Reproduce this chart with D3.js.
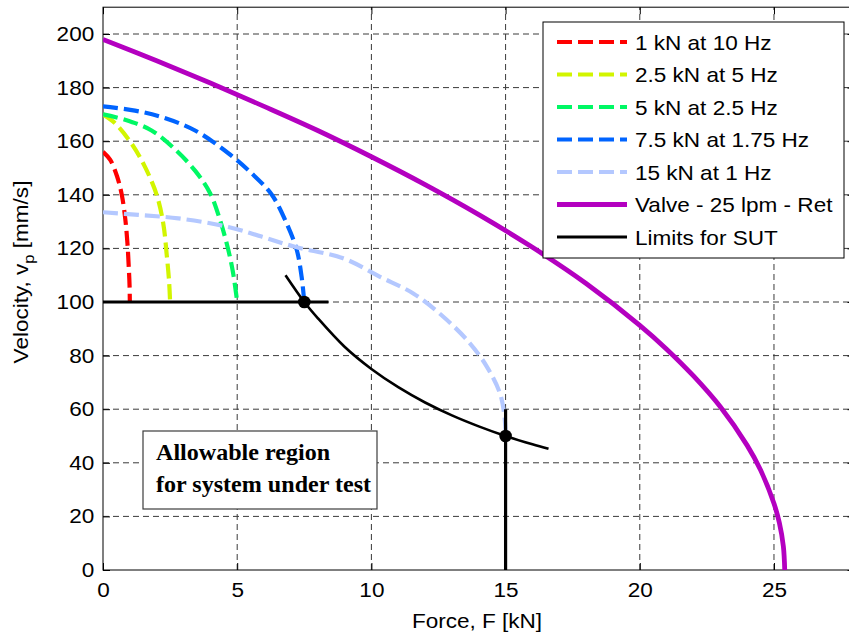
<!DOCTYPE html>
<html>
<head>
<meta charset="utf-8">
<script src="https://cdn.jsdelivr.net/npm/d3@7"></script>
<style>
  html, body { margin: 0; padding: 0; background: #fff; }
  svg { display: block; }
</style>
</head>
<body>
<svg id="chart" width="849" height="637"></svg>
<script>
// ---- tick values ----
const xTicks = [0, 5, 10, 15, 20, 25];
const yTicks = [0, 20, 40, 60, 80, 100, 120, 140, 160, 180, 200];

// ---- sinusoidal test loci (force kN, velocity mm/s) ----
const f1kN   = [0, 0.27, 0.52, 0.70, 0.83, 0.91, 0.96, 0.99, 1.0];
const v1kN   = [156, 153, 147, 140, 131, 122, 113, 106, 100];

const f2p5kN = [0, 0.45, 1.07, 1.56, 2.0, 2.25, 2.37, 2.46, 2.5];
const v2p5kN = [170, 166.7, 159, 150.5, 140, 129, 118, 108, 100];

const f5kN   = [0, 0.82, 1.81, 2.68, 3.43, 3.99, 4.36, 4.67, 4.85, 5.0];
const v5kN   = [170, 168, 164, 157, 149, 140.6, 130.6, 119.4, 110.7, 100];

const f7p5kN = [0, 1.19, 2.19, 3.43, 4.67, 5.54, 6.29, 6.84, 7.22, 7.40, 7.5];
const v7p5kN = [173, 171.4, 169, 164, 155.5, 148, 140, 129.4, 119.4, 109.4, 100];

const f15kN  = [0, 1.32, 2.81, 4.67, 5.91, 7.15, 8.95, 10.32, 11.56, 12.68, 13.67, 14.3, 14.79, 14.95, 15];
const v15kN  = [133.5, 132.5, 131.2, 128, 124.4, 120.6, 116.3, 109.4, 103.2, 94.5, 84.6, 75.9, 65.9, 58, 52];

// ---- valve capability, 25 lpm ----
const fValve = [0, 2, 4, 6, 8, 10, 12, 14, 16, 18, 20, 21, 22, 23, 24, 24.5, 25, 25.2, 25.35, 25.4];
const vValve = [198, 190, 181.7, 173, 164, 154.2, 143.8, 132.6, 120.4, 106.9, 91.3, 82.4, 72.4, 60.9, 46.5, 37.3, 24.8, 17.6, 8.8, 0];

// ---- limits for system under test ----
const fLimitCurve = [6.8, 7.5, 8, 9, 10, 11, 12, 13, 14, 15, 16, 16.6];
const vLimitCurve = [110, 100, 94, 83.3, 75, 68.2, 62.5, 57.7, 53.6, 50, 46.9, 45.2];
const fLimitH = [0, 8.4];
const vLimitH = [100, 100];
const fLimitV = [15, 15];
const vLimitV = [0, 60];
const fCorners = [7.5, 15];
const vCorners = [100, 50];

// ---- legend entries ----
const legendLabels = ["1 kN at 10 Hz", "2.5 kN at 5 Hz", "5 kN at 2.5 Hz", "7.5 kN at 1.75 Hz",
                      "15 kN at 1 Hz", "Valve - 25 lpm - Ret", "Limits for SUT"];
const legendColors = ["#ff0000", "#d2f500", "#00f864", "#0064ff", "#b4c8ff", "#b400c0", "#000000"];

const annotationLines = ["Allowable region", "for system under test"];

// ---- layout ----
const svg = d3.select("#chart");
const x = d3.scaleLinear().domain([0, 28]).range([103, 854.5]);
const y = d3.scaleLinear().domain([0, 210]).range([570, 7.2]);
const FONT = "'Liberation Sans', Arial, Helvetica, sans-serif";
const FS = 20.5, SX = 1.1;

// clip for plot area
svg.append("defs").append("clipPath").attr("id", "plotclip")
  .append("rect").attr("x", x(0)).attr("y", y(210))
  .attr("width", x(28) - x(0)).attr("height", y(0) - y(210));

// grid
const grid = svg.append("g").attr("stroke", "#3a3a3a").attr("stroke-width", 1)
  .attr("stroke-dasharray", "6,4");
xTicks.filter(d => d > 0).forEach(d => {
  grid.append("line").attr("x1", x(d)).attr("x2", x(d)).attr("y1", y(0)).attr("y2", y(210));
});
yTicks.filter(d => d > 0).forEach(d => {
  grid.append("line").attr("x1", x(0)).attr("x2", x(28)).attr("y1", y(d)).attr("y2", y(d));
});

// axes
function styleTicks(g) {
  g.select(".domain").remove();
  g.selectAll(".tick line").attr("stroke", "#000");
  g.selectAll(".tick text").attr("font-family", FONT).attr("font-size", FS)
    .attr("fill", "#000").attr("transform", `scale(${SX},1)`);
}
svg.append("g").attr("transform", `translate(0,${y(0)})`)
  .call(d3.axisBottom(x).tickValues(xTicks).tickSize(-7).tickPadding(12).tickFormat(d3.format("d")))
  .call(styleTicks);
svg.append("g").attr("transform", `translate(${x(0)},0)`)
  .call(d3.axisLeft(y).tickValues(yTicks).tickSize(-7).tickPadding(8).tickFormat(d3.format("d")))
  .call(styleTicks);
svg.append("g").attr("transform", `translate(0,${y(210)})`)
  .call(d3.axisTop(x).tickValues(xTicks).tickSize(-7).tickFormat(""))
  .call(styleTicks);
svg.append("g").attr("transform", `translate(${x(28)},0)`)
  .call(d3.axisRight(y).tickValues(yTicks).tickSize(-7).tickFormat(""))
  .call(styleTicks);

// plot frame
svg.append("rect").attr("x", x(0)).attr("y", y(210))
  .attr("width", x(28) - x(0)).attr("height", y(0) - y(210))
  .attr("fill", "none").attr("stroke", "#000").attr("stroke-width", 1);

// curves
const plot = svg.append("g").attr("clip-path", "url(#plotclip)");
const zip = (fs, vs) => fs.map((f, i) => [f, vs[i]]);
const line = d3.line().x(d => x(d[0])).y(d => y(d[1])).curve(d3.curveCatmullRom.alpha(0.5));
const straight = d3.line().x(d => x(d[0])).y(d => y(d[1]));

const dashed = [[f1kN, v1kN], [f2p5kN, v2p5kN], [f5kN, v5kN], [f7p5kN, v7p5kN], [f15kN, v15kN]];
dashed.forEach(([fs, vs], i) => {
  plot.append("path").attr("d", line(zip(fs, vs))).attr("fill", "none")
    .attr("stroke", legendColors[i]).attr("stroke-width", 4.2)
    .attr("stroke-dasharray", "15,6");
});
plot.append("path").attr("d", line(zip(fValve, vValve))).attr("fill", "none")
  .attr("stroke", legendColors[5]).attr("stroke-width", 4.8).attr("stroke-linejoin", "round");

plot.append("path").attr("d", straight(zip(fLimitH, vLimitH))).attr("fill", "none")
  .attr("stroke", "#000").attr("stroke-width", 3.2);
plot.append("path").attr("d", straight(zip(fLimitV, vLimitV))).attr("fill", "none")
  .attr("stroke", "#000").attr("stroke-width", 3.2);
plot.append("path").attr("d", line(zip(fLimitCurve, vLimitCurve))).attr("fill", "none")
  .attr("stroke", "#000").attr("stroke-width", 2.6);
plot.selectAll("circle.corner").data(zip(fCorners, vCorners)).join("circle")
  .attr("class", "corner").attr("cx", d => x(d[0])).attr("cy", d => y(d[1]))
  .attr("r", 6.3).attr("fill", "#000");

// annotation box
svg.append("rect").attr("x", 143).attr("y", 431).attr("width", 234).attr("height", 78)
  .attr("fill", "#fff").attr("stroke", "#3c3c3c").attr("stroke-width", 1.2);
annotationLines.forEach((t, i) => {
  svg.append("text").attr("transform", `translate(156,${460 + i * 32}) scale(1.07,1)`)
    .attr("font-family", "'Liberation Serif', 'Times New Roman', serif")
    .attr("font-weight", "bold").attr("font-size", 22.5).attr("fill", "#000").text(t);
});

// legend
const lg = svg.append("g");
lg.append("rect").attr("x", 543).attr("y", 22).attr("width", 301).attr("height", 236)
  .attr("fill", "#fff").attr("stroke", "#000").attr("stroke-width", 1);
legendLabels.forEach((label, i) => {
  const cy = 42 + i * 32.5;
  const ln = lg.append("line").attr("x1", 557).attr("x2", 627).attr("y1", cy).attr("y2", cy)
    .attr("stroke", legendColors[i]);
  if (i < 5) ln.attr("stroke-width", 4.2).attr("stroke-dasharray", "15,6");
  else if (i === 5) ln.attr("stroke-width", 4.8);
  else ln.attr("stroke-width", 3.2);
  lg.append("text").attr("transform", `translate(635,${cy + 7.5}) scale(${SX},1)`)
    .attr("font-family", FONT).attr("font-size", FS).attr("fill", "#000").text(label);
});

// axis titles
svg.append("text").attr("transform", `translate(477,628) scale(${SX},1)`)
  .attr("text-anchor", "middle").attr("font-family", FONT).attr("font-size", FS)
  .attr("fill", "#000").text("Force, F [kN]");

const yl = svg.append("text").attr("transform", `translate(28,272) rotate(-90) scale(${SX},1)`)
  .attr("text-anchor", "middle").attr("font-family", FONT).attr("font-size", FS).attr("fill", "#000");
yl.append("tspan").text("Velocity, v");
yl.append("tspan").attr("dy", 6).attr("font-size", 15).text("p");
yl.append("tspan").attr("dy", -6).text(" [mm/s]");
</script>
</body>
</html>
